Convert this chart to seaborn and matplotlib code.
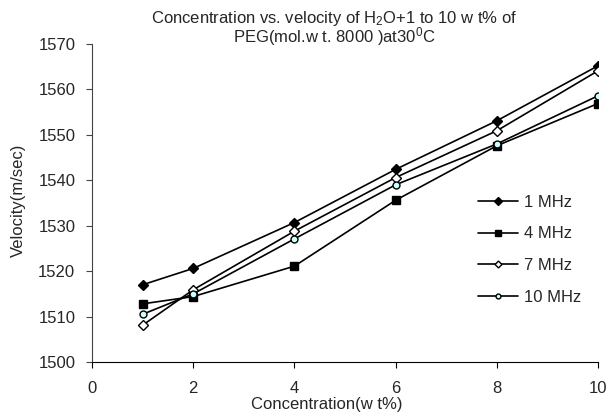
import matplotlib
matplotlib.use("Agg")
import matplotlib.pyplot as plt
import seaborn as sns
import pandas as pd

concentration = [1, 2, 4, 6, 8, 10]
v_1mhz = [1517.0, 1520.6, 1530.7, 1542.4, 1553.1, 1565.2]
v_4mhz = [1512.8, 1514.4, 1521.1, 1535.6, 1547.6, 1556.9]
v_7mhz = [1508.1, 1515.9, 1528.8, 1540.6, 1550.9, 1564.1]
v_10mhz = [1510.5, 1515.0, 1527.1, 1539.0, 1548.0, 1558.6]
labels = ["1 MHz", "4 MHz", "7 MHz", "10 MHz"]
x_ticks = [0, 2, 4, 6, 8, 10]
y_ticks = [1500, 1510, 1520, 1530, 1540, 1550, 1560, 1570]

sns.set_style("ticks")
plt.rcParams["font.family"] = ["Liberation Sans", "DejaVu Sans"]
plt.rcParams["mathtext.fontset"] = "custom"
plt.rcParams["mathtext.rm"] = "Liberation Sans"
plt.rcParams["mathtext.it"] = "Liberation Sans:italic"
plt.rcParams["mathtext.bf"] = "Liberation Sans:bold"

FS = 12

fig = plt.figure(figsize=(6.09, 4.12), dpi=100)
ax = fig.add_axes([92 / 609, 50 / 412, (598 - 92) / 609, (362 - 44) / 412])

series = [v_1mhz, v_4mhz, v_7mhz, v_10mhz]
styles = [
    dict(marker="D", markerfacecolor="black", markersize=5.5),
    dict(marker="s", markerfacecolor="black", markersize=5.5),
    dict(marker="D", markerfacecolor="white", markersize=5),
    dict(marker="o", markerfacecolor="#ccffff", markersize=5),
]
for vals, lab, st in zip(series, labels, styles):
    df = pd.DataFrame({"Concentration": concentration, "Velocity": vals})
    sns.lineplot(data=df, x="Concentration", y="Velocity", ax=ax, color="black",
                 linewidth=1.2, markeredgecolor="black", markeredgewidth=1.0,
                 label=lab, **st)

ax.set_xlim(0, 10)
ax.set_ylim(1500, 1570)
ax.set_xticks(x_ticks)
ax.set_yticks(y_ticks)
ax.set_xticklabels([str(t) for t in x_ticks])
ax.set_yticklabels([str(t) for t in y_ticks])
ax.tick_params(axis="x", length=4, pad=10, labelsize=FS, color="black")
ax.tick_params(axis="y", length=4, pad=8, labelsize=FS, color="#444444")
sns.despine(ax=ax)
ax.spines["left"].set_color("#444444")
ax.spines["bottom"].set_color("black")
ax.set_xlabel("")
ax.set_ylabel("")

fig.text(18 / 609, 1 - 200 / 412, "Velocity(m/sec)", rotation=90,
         ha="center", va="center", fontsize=FS)
fig.text(327 / 609, 0.5 / 412, "Concentration(w t%)",
         ha="center", va="bottom", fontsize=FS)
fig.text(334 / 609, 1 - 18 / 412,
         "Concentration vs. velocity of H$_2$O+1 to 10 w t% of",
         ha="center", va="center", fontsize=FS)
fig.text(334 / 609, 1 - 37 / 412, "PEG(mol.w t. 8000 )at30$^0$C",
         ha="center", va="center", fontsize=FS)

leg = ax.legend(loc="upper left", bbox_to_anchor=(466 / 609, 1 - 183 / 412),
                bbox_transform=fig.transFigure, frameon=False, fontsize=FS,
                handlelength=2.4, labelspacing=1.0, handletextpad=0.4,
                markerscale=0.7, borderpad=0.2)

fig.savefig("out.png", dpi=100)
